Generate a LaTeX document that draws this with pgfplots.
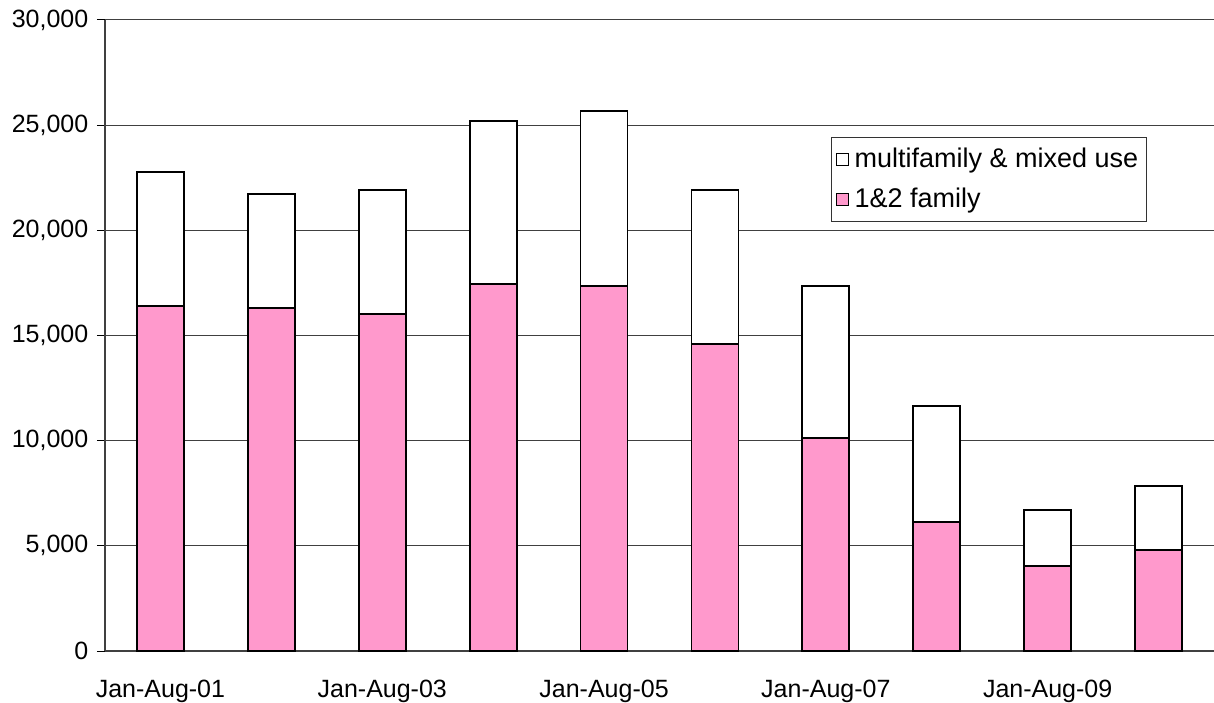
\documentclass[border=0pt]{standalone}
\usepackage{pgfplots}
\pgfplotsset{compat=1.18}
\usepackage{fontspec}
\setmainfont{Liberation Sans}
\definecolor{pinkbar}{HTML}{FF99CC}

\begin{document}
\fontsize{12.5}{15}\selectfont
\begin{tikzpicture}
\begin{axis}[
    at={(0,0)}, anchor=south west,
    scale only axis,
    width=554.5pt, height=315.5pt,
    ybar stacked, bar width=23.5pt,
    xmin=-0.5, xmax=9.5,
    ymin=0, ymax=30000,
    ytick={0,5000,...,30000},
    xtick={0,2,4,6,8},
    xticklabels={Jan-Aug-01,Jan-Aug-03,Jan-Aug-05,Jan-Aug-07,Jan-Aug-09},
    x tick style={draw=none},
    xticklabel style={yshift=-6pt},
    y tick style={black, line width=0.5pt},
    major tick length=4pt,
    tick align=outside,
    ymajorgrids,
    grid style={black!75, line width=0.5pt},
    axis x line*=bottom, axis y line*=left,
    axis line style={black!75, line width=0.6pt, -},
    scaled y ticks=false,
    /pgf/number format/.cd, 1000 sep={,}, assume math mode=true,
    /pgfplots/.cd,
    tick label style={font=\fontsize{12.5}{15}\selectfont},
    reverse legend,
    legend style={at={(0.6547,0.8146)}, anchor=north west,
        draw=black!80, line width=0.5pt,
        font=\fontsize{13.5}{16}\selectfont,
        row sep=4.5pt, column sep=1pt, inner xsep=2pt, inner ysep=3pt},
    legend cell align=left,
    legend image code/.code={\draw[#1, line width=0.5pt] (0pt,-3pt) rectangle (6pt,3pt);},
]
\addplot+[draw=black, fill=pinkbar, line width=0.9pt] coordinates {
    (0,16400) (1,16300) (2,16020) (3,17450) (4,17350)
    (5,14600) (6,10130) (7,6130) (8,4040) (9,4800)
};
\addlegendentry{1\&2 family}
\addplot+[draw=black, fill=white, line width=0.9pt] coordinates {
    (0,6380) (1,5430) (2,5900) (3,7750) (4,8330)
    (5,7320) (6,7230) (7,5520) (8,2660) (9,3050)
};
\addlegendentry{multifamily \& mixed use}
\end{axis}
\pgfresetboundingbox
\path[use as bounding box] (-52.5pt,-25.5pt) rectangle (554.5pt,325.5pt);
\end{tikzpicture}
\end{document}
